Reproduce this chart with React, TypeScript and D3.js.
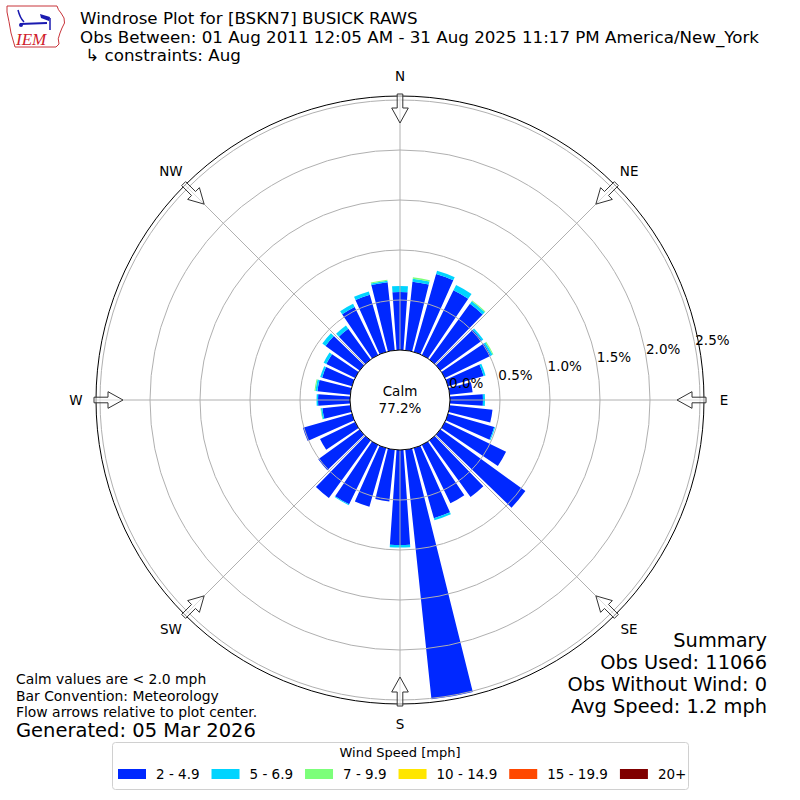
import * as React from "react";
import * as d3 from "d3";

// wind direction bins (degrees, meteorological: where the wind comes from)
const directions = [
  0, 10, 20, 30, 40, 50, 60, 70, 80, 90, 100, 110, 120, 130, 140, 150, 160, 170,
  180, 190, 200, 210, 220, 230, 240, 250, 260, 270, 280, 290, 300, 310, 320, 330, 340, 350,
];

// frequency (%) per speed bin
const speed2to5 = [
  0.58, 0.69, 0.81, 0.72, 0.69, 0.51, 0.51, 0.37, 0.23, 0.33, 0.43, 0.48,
  0.68, 1.05, 0.7, 0.65, 0.73, 2.51, 0.95, 0.52, 0.61, 0.66, 0.71, 0.51,
  0.39, 0.51, 0.28, 0.32, 0.33, 0.31, 0.32, 0.42, 0.38, 0.535, 0.595, 0.685,
];
const speed5to7 = [
  0.06, 0.03, 0.035, 0.06, 0.03, 0.02, 0.02, 0.02, 0, 0.02, 0, 0.01,
  0, 0, 0, 0, 0.02, 0, 0.025, 0, 0, 0.01, 0, 0,
  0, 0, 0.015, 0.015, 0.02, 0.02, 0.03, 0.04, 0.04, 0.035, 0.035, 0.015,
];
const speed7to10 = [
  0, 0.015, 0, 0, 0.01, 0, 0.01, 0, 0, 0, 0, 0,
  0, 0, 0, 0, 0, 0, 0, 0, 0, 0, 0, 0,
  0, 0, 0.005, 0, 0.01, 0, 0, 0, 0, 0, 0, 0.01,
];

const speedLabels = ["2 - 4.9", "5 - 6.9", "7 - 9.9", "10 - 14.9", "15 - 19.9", "20+"];
const speedColors = ["#0028ff", "#00d4ff", "#7cff7a", "#ffe600", "#ff4800", "#800000"];

const ringTicks = [0, 0.5, 1.0, 1.5, 2.0, 2.5];
const compass = ["N", "NE", "E", "SE", "S", "SW", "W", "NW"];

const calmPct = 77.2;
const titleLines = [
  "Windrose Plot for [BSKN7] BUSICK RAWS",
  "Obs Between: 01 Aug 2011 12:05 AM - 31 Aug 2025 11:17 PM America/New_York",
  " ↳ constraints: Aug",
];
const summaryLines = ["Summary", "Obs Used: 11066", "Obs Without Wind: 0", "Avg Speed: 1.2 mph"];
const noteLines = [
  "Calm values are < 2.0 mph",
  "Bar Convention: Meteorology",
  "Flow arrows relative to plot center.",
];

const FONT = "DejaVu Sans";
const cx = 400;
const cy = 400;

const measure = (txt: string, size: number) => {
  const ctx = document.createElement("canvas").getContext("2d");
  if (!ctx) return txt.length * size * 0.6;
  ctx.font = `${size}px "${FONT}"`;
  return ctx.measureText(txt).width;
};

const Logo = () => (
  <g>
    <path
      d="M7,6 L57,6 Q58,10 61,13 L64,18 Q66,23 62,28 L60,33 Q57,39 59,44 L56,47 L15,47 Q13,40 11,33 Q9,21 7,12 Z"
      fill="white"
      stroke="#c8343a"
      strokeWidth={1}
    />
    <path d="M18,10 Q20,18 24,22" fill="none" stroke="#1a1ab0" strokeWidth={1.5} />
    <line x1={20} y1={24} x2={47} y2={23} stroke="#1a1ab0" strokeWidth={2} />
    <circle cx={21} cy={25} r={2} fill="#1a1ab0" />
    <path d="M40,14 L50,17 L49,21 L41,18 Z" fill="#1a1ab0" />
    <line x1={50} y1={18} x2={50} y2={30} stroke="#1a1ab0" strokeWidth={1.5} />
    <text
      x={16}
      y={45}
      fontFamily="Liberation Serif"
      fontStyle="italic"
      fontSize={17}
      fill="#d0202a"
    >
      IEM
    </text>
  </g>
);

export default function App() {
  const rScale = d3.scaleLinear().domain([0, 2.5]).range([50, 300]);
  const outerR = rScale(2.54);
  const barHalf = 4; // degrees
  const rad = Math.PI / 180;

  const rows = directions.map((d, i) => ({
    dir: d,
    b0: speed2to5[i],
    b1: speed5to7[i],
    b2: speed7to10[i],
  }));
  const stacked = d3.stack<any>().keys(["b0", "b1", "b2"])(rows);

  const arc = d3
    .arc<any>()
    .innerRadius((d) => rScale(d[0]))
    .outerRadius((d) => rScale(d[1]))
    .startAngle((d) => (d.data.dir - barHalf) * rad)
    .endAngle((d) => (d.data.dir + barHalf) * rad);

  const polar = (deg: number, r: number) => [
    cx + r * Math.sin(deg * rad),
    cy - r * Math.cos(deg * rad),
  ];

  // flow arrow, pointing toward the center
  const arrowPts = (deg: number) => {
    const shape = [
      [306, -2.8],
      [292, -2.8],
      [292, -8.3],
      [277, 0],
      [292, 8.3],
      [292, 2.8],
      [306, 2.8],
    ];
    return shape
      .map(([r, w]) => {
        const [x, y] = polar(deg, r);
        const px = x + w * Math.cos(deg * rad);
        const py = y + w * Math.sin(deg * rad);
        return `${px},${py}`;
      })
      .join(" ");
  };

  // legend layout
  const legendSize = 13.5;
  const swatchW = 28;
  let lx = 118;
  const legendItems = speedLabels.map((lab, i) => {
    const item = { lab, color: speedColors[i], x: lx };
    lx += swatchW + 10 + measure(lab, legendSize) + 12;
    return item;
  });

  const labelAngle = 80; // compass degrees (10 deg above East)

  return (
    <svg
      width={800}
      height={800}
      style={{ position: "absolute", left: 0, top: 0, background: "white" }}
      fontFamily={FONT}
    >
      <rect width={800} height={800} fill="white" />
      <Logo />
      {titleLines.map((t, i) => (
        <text key={i} x={80} y={24 + i * 18.5} fontSize={16.7} style={{ whiteSpace: "pre" }}>
          {t}
        </text>
      ))}

      {/* bars */}
      <g transform={`translate(${cx},${cy})`}>
        {stacked.map((layer, li) => (
          <g key={layer.key} fill={speedColors[li]}>
            {layer
              .filter((d) => d[1] - d[0] > 0)
              .map((d, i) => (
                <path key={i} d={arc(d) || ""} />
              ))}
          </g>
        ))}
      </g>

      {/* grid */}
      <g fill="none" stroke="#b0b0b0" strokeWidth={1}>
        {ringTicks.slice(1).map((t) => (
          <circle key={t} cx={cx} cy={cy} r={rScale(t)} />
        ))}
        {compass.map((c, i) => {
          const [x1, y1] = polar(i * 45, rScale(0));
          const [x2, y2] = polar(i * 45, outerR);
          return <line key={c} x1={x1} y1={y1} x2={x2} y2={y2} />;
        })}
      </g>
      <circle cx={cx} cy={cy} r={outerR} fill="none" stroke="black" strokeWidth={1} />

      {/* calm */}
      <circle cx={cx} cy={cy} r={rScale(0)} fill="white" stroke="black" strokeWidth={1} />
      <text x={cx} y={cy - 9} fontSize={13.5} textAnchor="middle" dominantBaseline="central">
        Calm
      </text>
      <text x={cx} y={cy + 8} fontSize={13.5} textAnchor="middle" dominantBaseline="central">
        {d3.format(".1f")(calmPct)}%
      </text>

      {/* ring labels */}
      {ringTicks.map((t) => {
        const [x, y] = polar(labelAngle, rScale(t));
        return (
          <text
            key={t}
            x={x + 17}
            y={y - 8}
            fontSize={13.5}
            textAnchor="middle"
            dominantBaseline="central"
          >
            {d3.format(".1f")(t)}%
          </text>
        );
      })}

      {/* flow arrows */}
      {compass.map((c, i) => (
        <polygon
          key={c}
          points={arrowPts(i * 45)}
          fill="white"
          fillOpacity={0.55}
          stroke="#333"
          strokeWidth={1}
        />
      ))}

      {/* compass labels */}
      {compass.map((c, i) => {
        const [x, y] = polar(i * 45, 324);
        return (
          <text
            key={c}
            x={x}
            y={y}
            fontSize={13.5}
            textAnchor="middle"
            dominantBaseline="central"
          >
            {c}
          </text>
        );
      })}

      {/* notes */}
      {noteLines.map((t, i) => (
        <text key={t} x={16} y={684 + i * 16.5} fontSize={13.9}>
          {t}
        </text>
      ))}
      <text x={16} y={737} fontSize={19.5}>
        Generated: 05 Mar 2026
      </text>

      {/* summary */}
      {summaryLines.map((t, i) => (
        <text key={t} x={767} y={647 + i * 22} fontSize={19.4} textAnchor="end">
          {t}
        </text>
      ))}

      {/* legend */}
      <rect
        x={112.5}
        y={742.5}
        width={576}
        height={47}
        rx={3}
        fill="white"
        stroke="#d0d0d0"
        strokeWidth={1}
      />
      <text x={400} y={757} fontSize={13} textAnchor="middle">
        Wind Speed [mph]
      </text>
      {legendItems.map((it) => (
        <g key={it.lab}>
          <rect x={it.x} y={769} width={swatchW} height={10} fill={it.color} />
          <text x={it.x + swatchW + 10} y={779} fontSize={legendSize}>
            {it.lab}
          </text>
        </g>
      ))}
    </svg>
  );
}
